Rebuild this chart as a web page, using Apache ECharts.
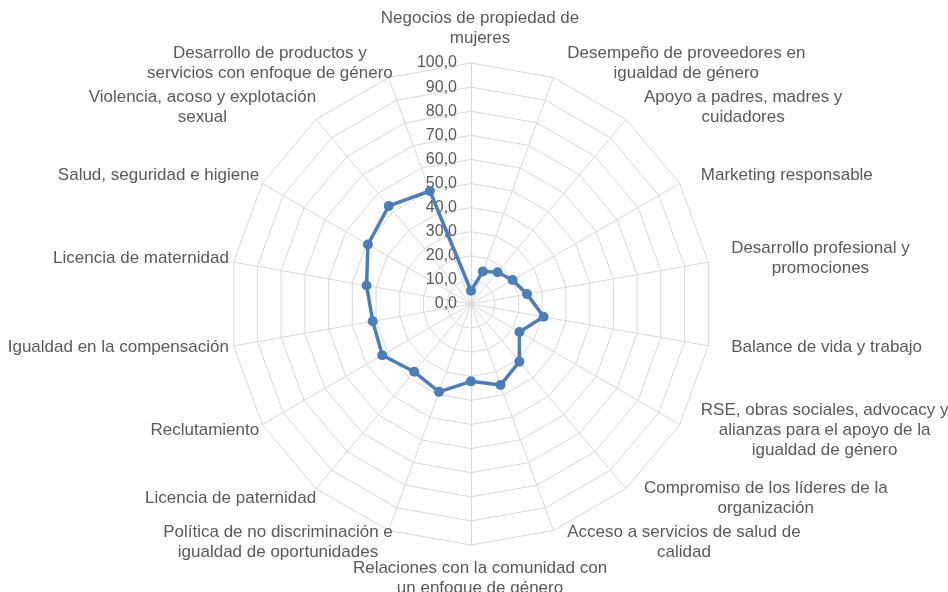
<!DOCTYPE html>
<html>
<head>
<meta charset="utf-8">
<script src="https://cdn.jsdelivr.net/npm/echarts@6/dist/echarts.min.js"></script>
<style>
  html, body { margin: 0; padding: 0; background: #fff; }
  #chart { width: 948px; height: 592px; }
</style>
</head>
<body>
<div id="chart"></div>
<script>
// categorias en el orden de Excel (sentido horario desde arriba)
var categorias = [
  "Negocios de propiedad de\nmujeres",
  "Desempeño de proveedores en\nigualdad de género",
  "Apoyo a padres, madres y\ncuidadores",
  "Marketing responsable",
  "Desarrollo profesional y\npromociones",
  "Balance de vida y trabajo",
  "RSE, obras sociales, advocacy y\nalianzas para el apoyo de la\nigualdad de género",
  "Compromiso de los líderes de la\norganización",
  "Acceso a servicios de salud de\ncalidad",
  "Relaciones con la comunidad con\nun enfoque de género",
  "Política de no discriminación e\nigualdad de oportunidades",
  "Licencia de paternidad",
  "Reclutamiento",
  "Igualdad en la compensación",
  "Licencia de maternidad",
  "Salud, seguridad e higiene",
  "Violencia, acoso y explotación\nsexual",
  "Desarrollo de productos y\nservicios con enfoque de género"
];
var valores = [5.5, 14.4, 17.2, 19.9, 23.6, 30.6, 23.2, 31.2, 35.8, 32.1, 38.8, 36.7, 42.5, 41.4, 44.0, 49.4, 53.1, 49.9];
var escalaMin = 0;
var escalaMax = 100;
var escalaPaso = 10;

var colorTexto = "#595959";
var colorGrilla = "#d9d9d9";
var colorSerie = "#4a7ebb";

// echarts dibuja el radar en sentido antihorario: invertir todo menos el primero
var orden = [0];
for (let i = categorias.length - 1; i > 0; i--) orden.push(i);

var indicadores = orden.map(function (i) {
  return { name: categorias[i], min: escalaMin, max: escalaMax };
});
var datos = orden.map(function (i) { return valores[i]; });

var cx = 471, cy = 304, radio = 241;
var desplazamientoNombres = 9; // Excel coloca los nombres algo a la derecha

var myChart = echarts.init(document.getElementById("chart"));
var option = {
  animation: false,
  textStyle: { fontFamily: "Liberation Sans, Arial, sans-serif" },
  radar: [
    {
      // grilla y serie
      center: [cx, cy],
      radius: radio,
      startAngle: 90,
      splitNumber: (escalaMax - escalaMin) / escalaPaso,
      shape: "polygon",
      indicator: indicadores,
      axisName: { show: false },
      axisLine: { lineStyle: { color: colorGrilla, width: 1 } },
      splitLine: { lineStyle: { color: colorGrilla, width: 1 } },
      splitArea: { show: false },
      axisTick: { show: false },
      axisLabel: { show: false }
    },
    {
      // solo los nombres de las categorias
      center: [cx + desplazamientoNombres, cy - 1],
      radius: radio,
      startAngle: 90,
      splitNumber: (escalaMax - escalaMin) / escalaPaso,
      shape: "polygon",
      nameGap: 14,
      indicator: indicadores,
      axisName: {
        color: colorTexto,
        fontSize: 17,
        formatter: function (name) {
          return name.split("\n").map(function (l) { return "{c|" + l + "}"; }).join("\n");
        },
        rich: {
          c: { align: "center", color: colorTexto, fontSize: 17, lineHeight: 20 }
        }
      },
      axisLine: { show: false },
      splitLine: { show: false },
      splitArea: { show: false },
      axisTick: { show: false },
      axisLabel: { show: false }
    }
  ],
  // eje vertical solo para las etiquetas de la escala
  grid: { left: cx, top: cy - radio, width: 1, height: radio },
  xAxis: { type: "value", show: false, min: 0, max: 1 },
  yAxis: {
    type: "value",
    min: escalaMin,
    max: escalaMax,
    interval: escalaPaso,
    axisLine: { show: false },
    axisTick: { show: false },
    splitLine: { show: false },
    axisLabel: {
      color: colorTexto,
      fontSize: 16,
      margin: 14,
      formatter: function (v) { return v.toFixed(1).replace(".", ","); }
    }
  },
  series: [
    {
      type: "radar",
      radarIndex: 0,
      symbol: "circle",
      symbolSize: 10,
      lineStyle: { color: colorSerie, width: 3.5 },
      itemStyle: { color: colorSerie },
      data: [{ value: datos, name: "Serie 1" }]
    }
  ]
};
myChart.setOption(option);
</script>
</body>
</html>
